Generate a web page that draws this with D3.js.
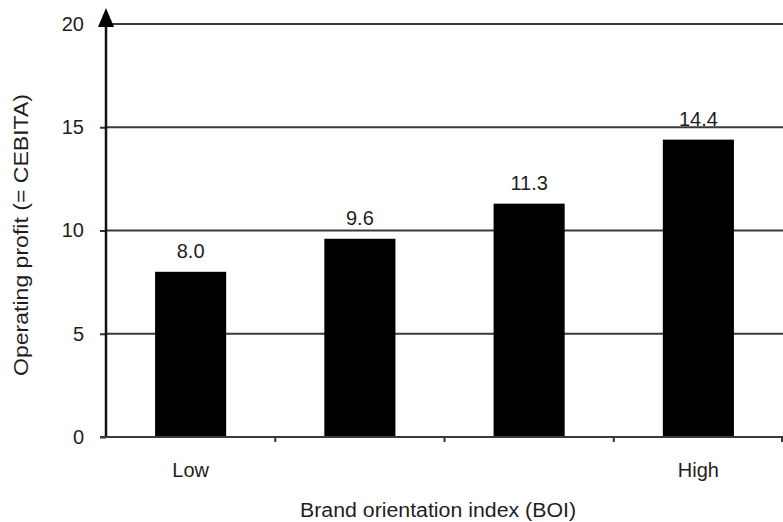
<!DOCTYPE html>
<html>
<head>
<meta charset="utf-8">
<script src="https://cdn.jsdelivr.net/npm/d3@7"></script>
<style>
  html, body { margin: 0; padding: 0; background: #fff; }
  svg { display: block; font-family: "Liberation Sans", Arial, sans-serif; }
</style>
</head>
<body>
<svg id="chart" width="783" height="522"></svg>
<script>
// BOI quartile groups and their average operating profit
const categories = ["Q1", "Q2", "Q3", "Q4"];
const tickLabels = ["Low", "", "", "High"];
const profit = [8.0, 9.6, 11.3, 14.4];
const yTicks = [0, 5, 10, 15, 20];

const svg = d3.select("#chart");
const margin = { left: 106, right: 0, top: 24, bottom: 85 };
const W = 783, H = 522;
const x0 = margin.left, x1 = W - margin.right;
const y0 = H - margin.bottom, y1 = margin.top;

const x = d3.scaleBand().domain(categories).range([x0, x1]).paddingInner(0.58).paddingOuter(0.29);
const xBand = d3.scaleBand().domain(categories).range([x0, x1]);
const y = d3.scaleLinear().domain([0, 20]).range([y0, y1]);

const ink = "#1e1e1e";
const fontSize = 20;

// horizontal gridlines
svg.append("g")
  .selectAll("line")
  .data(yTicks.filter(d => d > 0))
  .join("line")
  .attr("x1", x0).attr("x2", W)
  .attr("y1", d => y(d)).attr("y2", d => y(d))
  .attr("stroke", "#3a3a3a").attr("stroke-width", 2);

// bars
svg.append("g")
  .selectAll("rect")
  .data(profit)
  .join("rect")
  .attr("x", (d, i) => x(categories[i]))
  .attr("width", x.bandwidth())
  .attr("y", d => y(d))
  .attr("height", d => y(0) - y(d))
  .attr("fill", "#000");

// value labels
svg.append("g")
  .selectAll("text")
  .data(profit)
  .join("text")
  .attr("x", (d, i) => x(categories[i]) + x.bandwidth() / 2)
  .attr("y", d => y(d) - 14)
  .attr("text-anchor", "middle")
  .attr("font-size", fontSize)
  .attr("fill", ink)
  .text(d => d.toFixed(1));

// y axis
const yAxis = svg.append("g")
  .attr("transform", `translate(${x0},0)`)
  .call(d3.axisLeft(y).tickValues(yTicks).tickSize(6).tickPadding(16).tickFormat(d3.format("d")));
yAxis.select(".domain").remove();
yAxis.selectAll(".tick line").attr("stroke", "#333").attr("stroke-width", 2);
yAxis.selectAll(".tick text").attr("font-size", fontSize).attr("fill", ink).attr("font-family", "Liberation Sans, Arial, sans-serif");

// vertical axis line with arrowhead
svg.append("line")
  .attr("x1", x0).attr("x2", x0)
  .attr("y1", y0).attr("y2", 22)
  .attr("stroke", "#111").attr("stroke-width", 2.5);
svg.append("path")
  .attr("d", `M${x0},8 L${x0 - 8},27 L${x0 + 8},27 Z`)
  .attr("fill", "#000");

// x axis
const xAxis = svg.append("g")
  .attr("transform", `translate(0,${y0})`)
  .call(d3.axisBottom(xBand).tickSize(0).tickFormat((d, i) => tickLabels[i]).tickPadding(26));
xAxis.select(".domain").remove();
xAxis.selectAll(".tick text").attr("font-size", fontSize).attr("fill", ink).attr("font-family", "Liberation Sans, Arial, sans-serif");
svg.append("line")
  .attr("x1", x0 - 6).attr("x2", W)
  .attr("y1", y0).attr("y2", y0)
  .attr("stroke", "#3a3a3a").attr("stroke-width", 2);
// band boundary ticks
svg.append("g")
  .selectAll("line")
  .data(categories.slice(1))
  .join("line")
  .attr("x1", d => xBand(d)).attr("x2", d => xBand(d))
  .attr("y1", y0).attr("y2", y0 + 5)
  .attr("stroke", "#333").attr("stroke-width", 2);
svg.append("line")
  .attr("x1", W - 1).attr("x2", W - 1)
  .attr("y1", y0).attr("y2", y0 + 5)
  .attr("stroke", "#333").attr("stroke-width", 2);

// axis titles
svg.append("text")
  .attr("x", 438)
  .attr("y", 517)
  .attr("text-anchor", "middle")
  .attr("font-size", fontSize)
  .attr("textLength", 276)
  .attr("lengthAdjust", "spacingAndGlyphs")
  .attr("fill", ink)
  .text("Brand orientation index (BOI)");

svg.append("text")
  .attr("transform", `translate(28,235) rotate(-90)`)
  .attr("text-anchor", "middle")
  .attr("font-size", fontSize)
  .attr("textLength", 282)
  .attr("lengthAdjust", "spacingAndGlyphs")
  .attr("fill", ink)
  .text("Operating profit (= CEBITA)");
</script>
</body>
</html>
